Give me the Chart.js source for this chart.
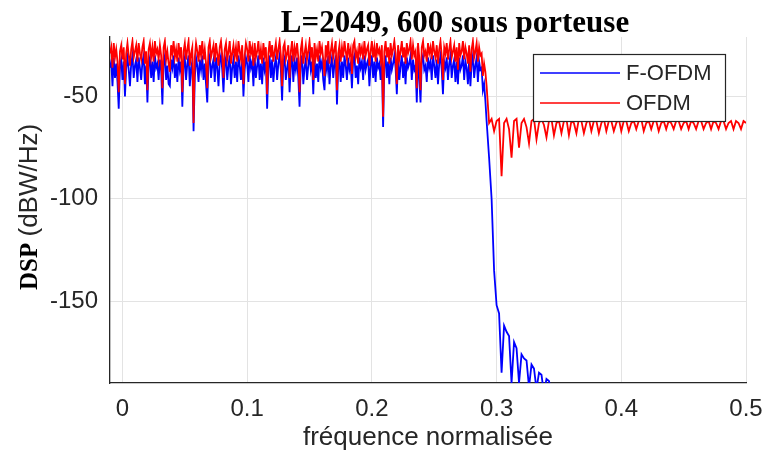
<!DOCTYPE html>
<html>
<head>
<meta charset="utf-8">
<script src="https://cdn.jsdelivr.net/npm/chart.js@4.4.1/dist/chart.umd.min.js"></script>
<style>
  body { margin: 0; background: #fff; }
  canvas { display: block; }
</style>
</head>
<body>
<canvas id="myChart" width="764" height="459"></canvas>
<script>
// passband sampled finer than the stopband
const passStart = -0.01;
const passStep = 0.001;
const stopStart = 0.294;
const stopStep = 0.002;

const xTicks = [0, 0.1, 0.2, 0.3, 0.4, 0.5];
const yTicks = [-50, -100, -150];

const seriesNames = ["F-OFDM", "OFDM"];

// F-OFDM (blue), dBW/Hz
const fofdmPass = [
  -36, -33, -45, -31, -41, -34, -43, -56, -35, -32,
  -42, -33, -50, -36, -31, -37, -45, -34, -30, -41,
  -35, -32, -43, -31, -36, -42, -33, -30, -44, -35,
  -53, -34, -31, -41, -33, -43, -30, -36, -34, -42,
  -32, -37, -54, -33, -30, -42, -35, -44, -45, -32,
  -36, -30, -41, -34, -43, -31, -37, -33, -55, -35,
  -31, -42, -34, -30, -45, -36, -33, -67, -41, -31,
  -35, -43, -32, -37, -30, -42, -34, -44, -53, -33,
  -30, -41, -35, -32, -43, -31, -36, -45, -33, -30,
  -37, -48, -34, -31, -42, -35, -30, -44, -36, -32,
  -41, -33, -43, -30, -35, -42, -32, -50, -37, -31,
  -34, -43, -30, -36, -33, -45, -31, -41, -35, -30,
  -42, -34, -44, -31, -37, -33, -56, -36, -30, -41,
  -32, -43, -35, -31, -42, -34, -30, -37, -52, -33,
  -31, -42, -36, -32, -48, -35, -30, -43, -33, -37,
  -31, -41, -55, -34, -30, -44, -36, -32, -42, -35,
  -30, -37, -33, -49, -31, -41, -34, -43, -30, -36,
  -33, -42, -47, -32, -37, -30, -44, -35, -31, -41,
  -34, -30, -54, -36, -32, -43, -33, -41, -30, -35,
  -42, -31, -37, -34, -46, -32, -30, -41, -35, -44,
  -31, -36, -33, -42, -30, -37, -34, -32, -45, -35,
  -30, -41, -33, -43, -31, -36, -34, -42, -32, -65,
  -35, -30, -41, -33, -44, -31, -37, -34, -30, -36,
  -49, -32, -42, -35, -30, -41, -33, -44, -31, -36,
  -34, -30, -42, -32, -37, -35, -53, -31, -41, -53,
  -33, -30, -37, -35, -43, -31, -36, -33, -42, -30,
  -35, -41, -32, -44, -34, -30, -37, -49, -33, -36,
  -31, -42, -34, -30, -41, -35, -32, -43, -33, -44,
  -31, -37, -35, -30, -42, -33, -36, -44, -32, -45,
  -34, -30, -41, -35, -31, -43, -33, -37, -36, -47,
  -44, -52, -62
];
const fofdmStop = [
  -80, -100, -135, -152, -156, -185, -162, -165, -167, -190,
  -170, -173, -190, -176, -178, -179, -192, -181, -183, -193,
  -185, -186, -195, -188, -189, -195
];

// OFDM (red), dBW/Hz
const ofdmPass = [
  -29, -26, -36, -24, -31, -27, -33, -48, -28, -25,
  -32, -26, -44, -29, -24, -30, -35, -27, -23, -31,
  -28, -25, -33, -24, -29, -32, -26, -23, -34, -28,
  -47, -27, -24, -31, -26, -33, -23, -29, -27, -32,
  -25, -30, -46, -26, -23, -32, -28, -34, -38, -25,
  -29, -23, -31, -27, -33, -24, -30, -26, -48, -28,
  -24, -32, -27, -23, -35, -29, -26, -63, -31, -24,
  -28, -33, -25, -30, -23, -32, -27, -34, -46, -26,
  -23, -31, -28, -25, -33, -24, -29, -35, -26, -23,
  -30, -41, -27, -24, -32, -28, -23, -34, -29, -25,
  -31, -26, -33, -23, -28, -32, -25, -44, -30, -24,
  -27, -33, -23, -29, -26, -35, -24, -31, -28, -23,
  -32, -27, -34, -24, -30, -26, -49, -29, -23, -31,
  -25, -33, -28, -24, -32, -27, -23, -30, -45, -26,
  -24, -32, -29, -25, -41, -28, -23, -33, -26, -30,
  -24, -31, -48, -27, -23, -34, -29, -25, -32, -28,
  -23, -30, -26, -42, -24, -31, -27, -33, -23, -29,
  -26, -32, -40, -25, -30, -23, -34, -28, -24, -31,
  -27, -23, -47, -29, -25, -33, -26, -31, -23, -28,
  -32, -24, -30, -27, -39, -25, -23, -31, -28, -34,
  -24, -29, -26, -32, -23, -30, -27, -25, -35, -28,
  -23, -31, -26, -33, -24, -29, -27, -32, -25, -60,
  -28, -23, -31, -26, -34, -24, -30, -27, -23, -29,
  -44, -25, -32, -28, -23, -31, -26, -34, -24, -29,
  -27, -23, -32, -25, -30, -28, -46, -24, -31, -47,
  -26, -23, -30, -28, -33, -24, -29, -26, -32, -23,
  -28, -31, -25, -34, -27, -23, -30, -42, -26, -29,
  -24, -32, -27, -23, -31, -28, -25, -33, -26, -37,
  -24, -30, -28, -23, -32, -26, -29, -34, -25, -38,
  -27, -23, -31, -28, -24, -33, -26, -30, -29, -40,
  -34, -38, -45
];
const ofdmStop = [
  -63, -61, -67, -62, -61, -89, -63, -61, -66, -80,
  -62, -61, -75, -63, -61, -65, -73, -62, -61, -71,
  -63, -61, -64, -70, -62, -61, -69, -63, -62, -68,
  -62, -61, -69, -62, -63, -68, -61, -62, -68, -63,
  -61, -67, -62, -62, -68, -63, -61, -67, -62, -62,
  -67, -63, -61, -67, -62, -62, -67, -63, -62, -66,
  -62, -61, -67, -63, -62, -66, -62, -62, -67, -63,
  -62, -66, -62, -63, -66, -62, -62, -66, -63, -62,
  -66, -62, -63, -66, -62, -62, -66, -63, -62, -66,
  -62, -63, -66, -62, -62, -66, -63, -62, -66, -62,
  -63, -66, -62, -63
];

const axisColor = "#262626";
const gridColor = "#e3e3e3";

function toPoints(values, start, step) {
  return values.map((v, i) => ({ x: +(start + i * step).toFixed(4), y: v }));
}

function series(pass, stop) {
  return toPoints(pass, passStart, passStep).concat(toPoints(stop, stopStart, stopStep));
}

// title, y label (mixed fonts) and boxed legend
const decorPlugin = {
  id: "decor",
  afterDraw(chart) {
    const ctx = chart.ctx;
    ctx.save();

    ctx.fillStyle = "#000";
    ctx.font = "bold 31px 'Liberation Serif', 'Times New Roman', serif";
    ctx.textAlign = "center";
    ctx.textBaseline = "alphabetic";
    ctx.fillText("L=2049, 600 sous porteuse", 455, 32);

    ctx.save();
    ctx.translate(37, 290);
    ctx.rotate(-Math.PI / 2);
    ctx.textAlign = "left";
    ctx.font = "bold 25px 'Liberation Serif', 'Times New Roman', serif";
    ctx.fillStyle = "#000";
    ctx.fillText("DSP", 0, 0);
    const w = ctx.measureText("DSP ").width;
    ctx.font = "26px 'Liberation Sans', Arial, sans-serif";
    ctx.fillStyle = axisColor;
    ctx.fillText("(dBW/Hz)", w, 0);
    ctx.restore();

    // legend
    ctx.fillStyle = "#fff";
    ctx.fillRect(533, 54, 192, 67);
    ctx.strokeStyle = axisColor;
    ctx.lineWidth = 1.2;
    ctx.strokeRect(533.5, 54.5, 192, 67);
    ctx.font = "22px 'Liberation Sans', Arial, sans-serif";
    ctx.textAlign = "left";
    ctx.textBaseline = "middle";
    chart.data.datasets.forEach((ds, k) => {
      const y = 73 + k * 30;
      ctx.strokeStyle = ds.borderColor;
      ctx.lineWidth = 1.5;
      ctx.beginPath();
      ctx.moveTo(540, y);
      ctx.lineTo(620, y);
      ctx.stroke();
      ctx.fillStyle = axisColor;
      ctx.fillText(ds.label, 626, y + 1);
    });

    ctx.restore();
  },
};

function initChart() {
  const ctx = document.getElementById("myChart").getContext("2d");
  window.chart = new Chart(ctx, {
    type: "line",
    data: {
      datasets: [
        {
          label: seriesNames[0],
          data: series(fofdmPass, fofdmStop),
          borderColor: "#0000ff",
          borderWidth: 1.8,
          pointRadius: 0,
          order: 1,
        },
        {
          label: seriesNames[1],
          data: series(ofdmPass, ofdmStop),
          borderColor: "#ff0000",
          borderWidth: 1.8,
          pointRadius: 0,
          order: 0,
        },
      ],
    },
    options: {
      responsive: false,
      animation: false,
      layout: { padding: { left: 0, right: 18, top: 37, bottom: 0 } },
      plugins: {
        legend: { display: false },
        title: { display: false },
        tooltip: { enabled: false },
      },
      scales: {
        x: {
          type: "linear",
          min: -0.01,
          max: 0.5,
          afterBuildTicks: (scale) => {
            scale.ticks = xTicks.map((v) => ({ value: v }));
          },
          afterFit: (scale) => {
            scale.height = 76;
            scale.paddingLeft = 0;
            scale.paddingRight = 0;
          },
          ticks: {
            padding: 12,
            color: axisColor,
            font: { family: "'Liberation Sans', Arial, sans-serif", size: 24 },
            callback: (v) => String(+v.toFixed(1)),
            maxRotation: 0,
          },
          grid: { color: gridColor, drawTicks: false },
          border: { color: axisColor, width: 1.3 },
          title: {
            display: true,
            text: "fréquence normalisée",
            color: axisColor,
            font: { family: "'Liberation Sans', Arial, sans-serif", size: 26 },
            padding: { top: 0, bottom: 6 },
          },
        },
        y: {
          min: -190,
          max: -21,
          afterBuildTicks: (scale) => {
            scale.ticks = yTicks.map((v) => ({ value: v }));
          },
          afterFit: (scale) => {
            scale.width = 110;
            scale.paddingTop = 0;
            scale.paddingBottom = 0;
          },
          ticks: {
            padding: 12,
            color: axisColor,
            font: { family: "'Liberation Sans', Arial, sans-serif", size: 24 },
          },
          grid: { color: gridColor, drawTicks: false },
          border: { color: axisColor, width: 1.3 },
        },
      },
    },
    plugins: [decorPlugin],
  });
}

initChart();
</script>
</body>
</html>
